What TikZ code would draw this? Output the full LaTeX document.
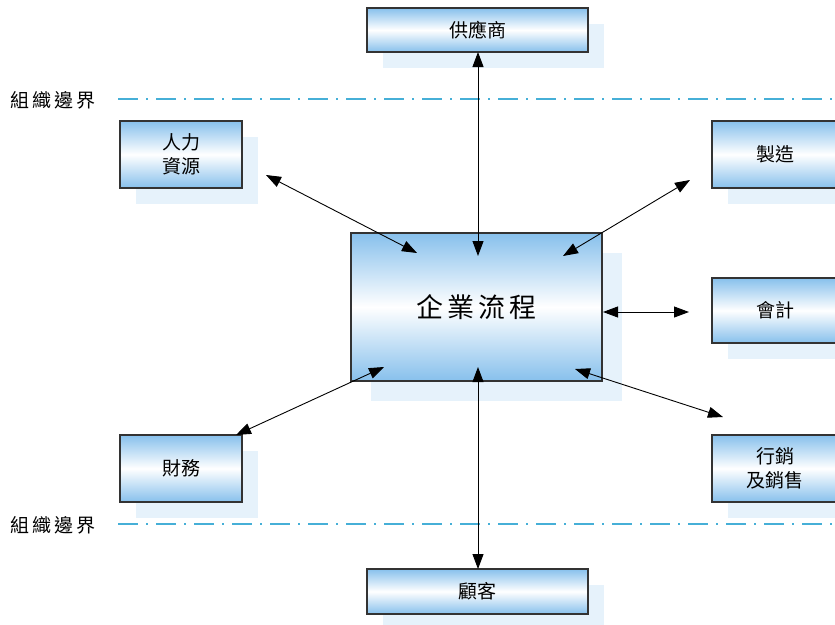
\documentclass[tikz,border=0pt]{standalone}
\usepackage{fontspec}
\newfontfamily\cjk{Noto Sans CJK TC}
\usetikzlibrary{arrows.meta}
\definecolor{boxblue}{RGB}{135,192,236}
\definecolor{shadowblue}{RGB}{230,242,251}
\definecolor{lineblue}{RGB}{70,175,215}
\tikzset{
  procbox/.style={draw=black!80, line width=1.2pt, top color=boxblue, bottom color=boxblue, middle color=white,
    font=\cjk\fontsize{19}{24}\selectfont, align=center, inner sep=0pt},
  shadowbox/.style={fill=shadowblue, draw=none},
  biarrow/.style={line width=0.9pt, {Triangle[length=15pt,width=11pt]}-{Triangle[length=15pt,width=11pt]}},
  boundary/.style={draw=lineblue, line width=2pt, dash pattern=on 20pt off 8pt on 2pt off 8pt},
  bndlabel/.style={font=\cjk\fontsize{19}{20}\selectfont, anchor=west, inner sep=0pt}
}
\newcommand{\mybox}[6]{% name, cx, cy, w, h, text
  \fill[shadowbox] (#2-#4/2+16,#3-#5/2+16) rectangle (#2+#4/2+16,#3+#5/2+16);
  \node[procbox, minimum width=#4pt, minimum height=#5pt] (#1) at (#2,#3) {#6};
}
\begin{document}
\begin{tikzpicture}[x=1pt,y=-1pt]
\useasboundingbox (0,0) rectangle (835,624);
\clip (0,0) rectangle (835,624);
\fill[white] (0,0) rectangle (835,624);

% boundaries
\node[bndlabel] (lbltop) at (10,100) {組\kern3pt 織\kern3pt 邊\kern3pt 界};
\node[bndlabel] (lblbot) at (10,525) {組\kern3pt 織\kern3pt 邊\kern3pt 界};
\coordinate (bt1) at (118,99);
\coordinate (bt2) at (840,99);
\coordinate (bb1) at (118,524);
\coordinate (bb2) at (840,524);
\draw[boundary] (bt1) -- (bt2);
\draw[boundary] (bb1) -- (bb2);

% boxes
\mybox{sup}{477.5}{30}{221}{44}{供應商}
\mybox{hr}{181}{154.5}{122}{67}{人力\\資源}
\mybox{mfg}{775}{154.5}{126}{67}{製造}
\mybox{acc}{775}{310.5}{126}{65}{會計}
\mybox{fin}{181}{468.5}{122}{67}{財務}
\mybox{mkt}{775}{468.5}{126}{67}{行銷\\及銷售}
\mybox{cust}{477.5}{591.5}{221}{45}{顧客}
\fill[shadowbox] (371,253) rectangle (622,401);
\node[procbox, minimum width=251pt, minimum height=148pt, font=\cjk\fontsize{27}{30}\selectfont] (core) at (476.5,307) {\raisebox{-5pt}{企\kern4pt 業\kern4pt 流\kern4pt 程}};

% arrow endpoints
\coordinate (supS) at (478,52);
\coordinate (coreN) at (478,256);
\coordinate (hrA) at (266,175);
\coordinate (coreNW) at (417,253);
\coordinate (mfgA) at (690,180);
\coordinate (coreNE) at (563,256);
\coordinate (coreE) at (603,312);
\coordinate (accA) at (689,312);
\coordinate (coreSE) at (575,369);
\coordinate (mktA) at (723,417);
\coordinate (finA) at (236,435);
\coordinate (coreSW) at (384,367);
\coordinate (coreS) at (478,367);
\coordinate (custN) at (478,569);

\draw[biarrow] (supS) -- (coreN);
\draw[biarrow] (hrA) -- (coreNW);
\draw[biarrow] (mfgA) -- (coreNE);
\draw[biarrow] (coreE) -- (accA);
\draw[biarrow] (coreSE) -- (mktA);
\draw[biarrow] (finA) -- (coreSW);
\draw[biarrow] (coreS) -- (custN);
\end{tikzpicture}
\end{document}
